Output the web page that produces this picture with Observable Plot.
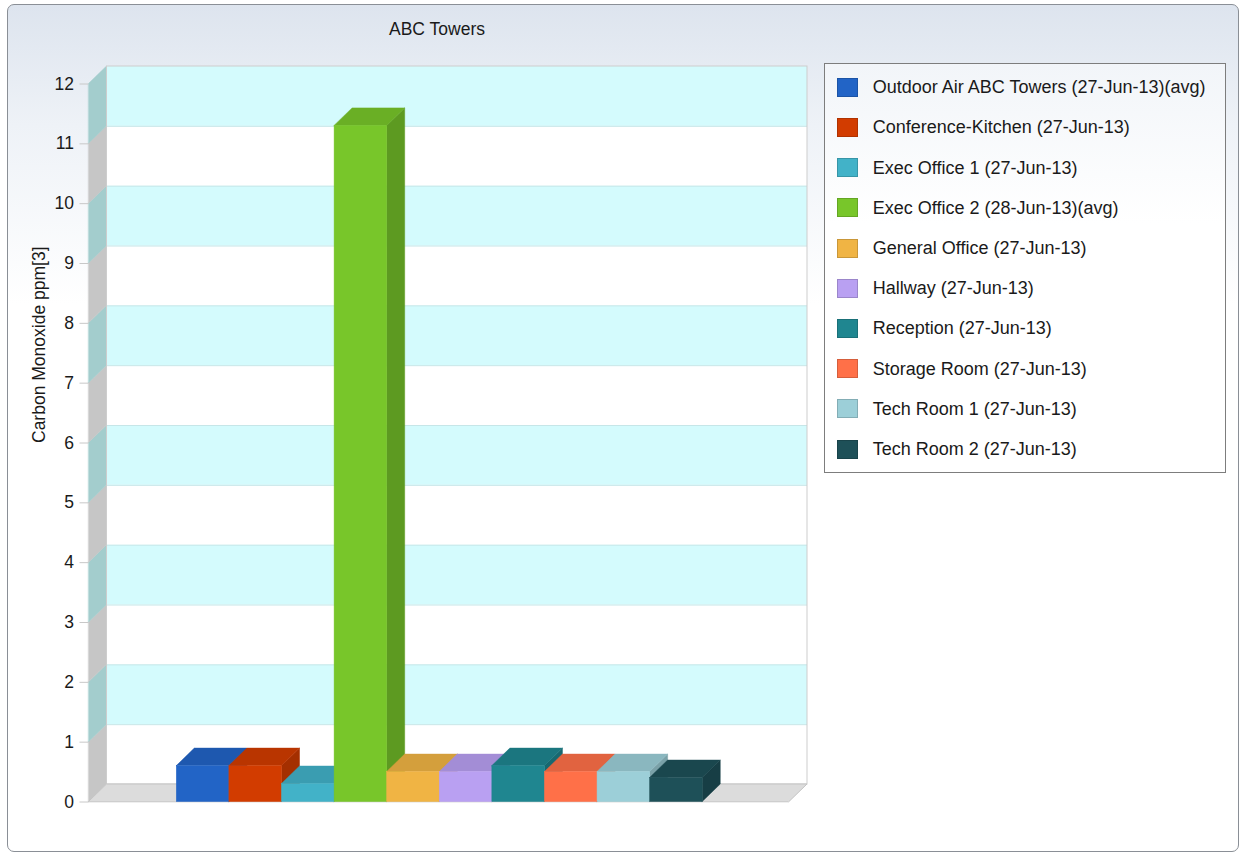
<!DOCTYPE html>
<html>
<head>
<meta charset="utf-8">
<script src="https://cdn.jsdelivr.net/npm/d3@7"></script>
<script src="https://cdn.jsdelivr.net/npm/@observablehq/plot@0.6"></script>
<style>
  html, body { margin: 0; padding: 0; background: #ffffff; }
  body {
    width: 1241px; height: 854px; position: relative; overflow: hidden;
    font-family: "Liberation Sans", Arial, sans-serif; color: #1a1a1a;
  }
  #panel {
    position: absolute; left: 7px; top: 4px; width: 1230px; height: 846px;
    border: 1px solid #8a8f96; border-radius: 7px;
    background: linear-gradient(to bottom, #dde4ee 0px, #eef2f7 120px, #ffffff 300px);
  }
  #chart { position: absolute; left: 0; top: 0; }
  #title {
    position: absolute; left: 337px; width: 200px; top: 19px;
    text-align: center; font-size: 17.5px; line-height: 20px;
  }
  #legend {
    position: absolute; left: 824px; top: 63px; width: 400px; height: 408px;
    border: 1px solid #7d7d7d;
    background: linear-gradient(to bottom, #f2f5f9 0px, #ffffff 160px);
  }
  .item { position: absolute; left: 0; width: 100%; height: 20px; }
  .swatch {
    position: absolute; left: 11.5px; top: 0.5px; width: 21px; height: 19px;
    box-sizing: border-box; border: 1px solid;
  }
  .label {
    position: absolute; left: 47.7px; top: 0; line-height: 20px;
    font-size: 18px; white-space: nowrap;
  }
</style>
</head>
<body>
<div id="panel"></div>
<div id="chart"></div>
<div id="title"></div>
<div id="legend"></div>
<script>
// Chart content
const chartTitle = "ABC Towers";
const yLabel = "Carbon Monoxide ppm[3]";
const series = [
  "Outdoor Air ABC Towers (27-Jun-13)(avg)",
  "Conference-Kitchen (27-Jun-13)",
  "Exec Office 1 (27-Jun-13)",
  "Exec Office 2 (28-Jun-13)(avg)",
  "General Office (27-Jun-13)",
  "Hallway (27-Jun-13)",
  "Reception (27-Jun-13)",
  "Storage Room (27-Jun-13)",
  "Tech Room 1 (27-Jun-13)",
  "Tech Room 2 (27-Jun-13)"
];
const values = [0.6, 0.6, 0.3, 11.3, 0.5, 0.5, 0.6, 0.5, 0.5, 0.4];
const colors = [
  "#2264c6", "#d23c00", "#42b2c8", "#78c62a", "#f0b444",
  "#b9a0f2", "#1f8690", "#ff7048", "#9ccfd8", "#1e5058"
];
const yTicks = [0, 1, 2, 3, 4, 5, 6, 7, 8, 9, 10, 11, 12];

// Layout of the 3D box
const W = 820, H = 854;
const mL = 88.5, mR = 31, mT = 83.5, mB = 52.5;
const xMin = -1.67, xMax = 11.65;       // bar i occupies [i, i + 1]
const depthPx = [18, 17.5];             // receding offset of the back plane
const yMax = yTicks[yTicks.length - 1];
const dX = depthPx[0] * (xMax - xMin) / (W - mL - mR);
const dY = depthPx[1] * yMax / (H - mT - mB);

const shade = (c, k) => d3.color(c).darker(k).formatHex();

const bars = series.map((name, i) => ({name, i, value: values[i], color: colors[i]}));

// Alternating bands on the back and left walls
const bands = yTicks.slice(0, -1).map(k => ({k, odd: k % 2 === 1}));
const leftWall = bands.flatMap(b => {
  const fill = b.odd ? "#a3cdcd" : "#c6c6c6";
  return [
    {k: b.k, x: xMin, y1: b.k, y2: b.k + 1, fill},
    {k: b.k, x: xMin + dX, y1: b.k + dY, y2: b.k + 1 + dY, fill}
  ];
});
const floor = [
  {y: 0, x1: xMin, x2: xMax},
  {y: dY, x1: xMin + dX, x2: xMax + dX}
];

// Bar faces
const sides = bars.flatMap(b => {
  const fill = shade(b.color, 0.7);
  return [
    {name: b.name, x: b.i + 1, y1: 0, y2: b.value, fill},
    {name: b.name, x: b.i + 1 + dX, y1: dY, y2: b.value + dY, fill}
  ];
});
const tops = bars.flatMap(b => {
  const fill = shade(b.color, 0.35);
  return [
    {name: b.name, y: b.value, x1: b.i, x2: b.i + 1, fill},
    {name: b.name, y: b.value + dY, x1: b.i + dX, x2: b.i + 1 + dX, fill}
  ];
});

const chart = Plot.plot({
  width: W,
  height: H,
  marginLeft: mL,
  marginRight: mR,
  marginTop: mT,
  marginBottom: mB,
  style: {background: "transparent", fontFamily: "'Liberation Sans', Arial, sans-serif", overflow: "visible"},
  x: {domain: [xMin, xMax], axis: null},
  y: {domain: [0, yMax], axis: null},
  color: {type: "identity"},
  marks: [
    // left wall
    Plot.areaY(leftWall, {x: "x", y1: "y1", y2: "y2", z: "k", fill: "fill", stroke: "fill", strokeWidth: 0.5}),
    // back wall
    Plot.rect(bands, {
      x1: () => xMin + dX, x2: () => xMax + dX,
      y1: d => d.k + dY, y2: d => d.k + 1 + dY,
      fill: d => d.odd ? "#d4fbfd" : "#ffffff"
    }),
    Plot.ruleY(yTicks.slice(1, -1), {
      y: d => d + dY, x1: () => xMin + dX, x2: () => xMax + dX,
      stroke: "#c6e6e8", strokeWidth: 1
    }),
    Plot.rect([0], {
      x1: () => xMin + dX, x2: () => xMax + dX, y1: () => dY, y2: () => yMax + dY,
      fill: "none", stroke: "#cdcdcd", strokeWidth: 1
    }),
    // floor
    Plot.areaX(floor, {y: "y", x1: "x1", x2: "x2", fill: "#dcdcdc", stroke: "#c4c4c4", strokeWidth: 1}),
    // bars: sides, then tops, then front faces
    Plot.areaY(sides, {x: "x", y1: "y1", y2: "y2", z: "name", fill: "fill", stroke: "fill", strokeWidth: 0.5}),
    Plot.areaX(tops, {y: "y", x1: "x1", x2: "x2", z: "name", fill: "fill", stroke: "fill", strokeWidth: 0.5}),
    Plot.rect(bars, {
      x1: "i", x2: d => d.i + 1, y1: () => 0, y2: "value",
      fill: "color", stroke: "color", strokeWidth: 0.5
    }),
    // y axis
    Plot.axisY(yTicks, {
      tickSize: 9, tickPadding: 6, fontSize: 17.5,
      tickFormat: d => String(d),
      stroke: "#c8c8c8", fill: "#1a1a1a", label: null
    }),
    Plot.text([yLabel], {
      text: d => d, frameAnchor: "left", rotate: -90, dx: -50,
      fontSize: 17.5, fill: "#1a1a1a"
    })
  ]
});
document.getElementById("chart").appendChild(chart);

document.getElementById("title").textContent = chartTitle;

// Legend
const legend = document.getElementById("legend");
series.forEach((name, i) => {
  const item = document.createElement("div");
  item.className = "item";
  item.style.top = (23.2 + 40.2 * i - 10) + "px";
  const sw = document.createElement("div");
  sw.className = "swatch";
  sw.style.background = colors[i];
  sw.style.borderColor = shade(colors[i], 0.5);
  const lab = document.createElement("div");
  lab.className = "label";
  lab.textContent = name;
  item.appendChild(sw);
  item.appendChild(lab);
  legend.appendChild(item);
});
</script>
</body>
</html>
